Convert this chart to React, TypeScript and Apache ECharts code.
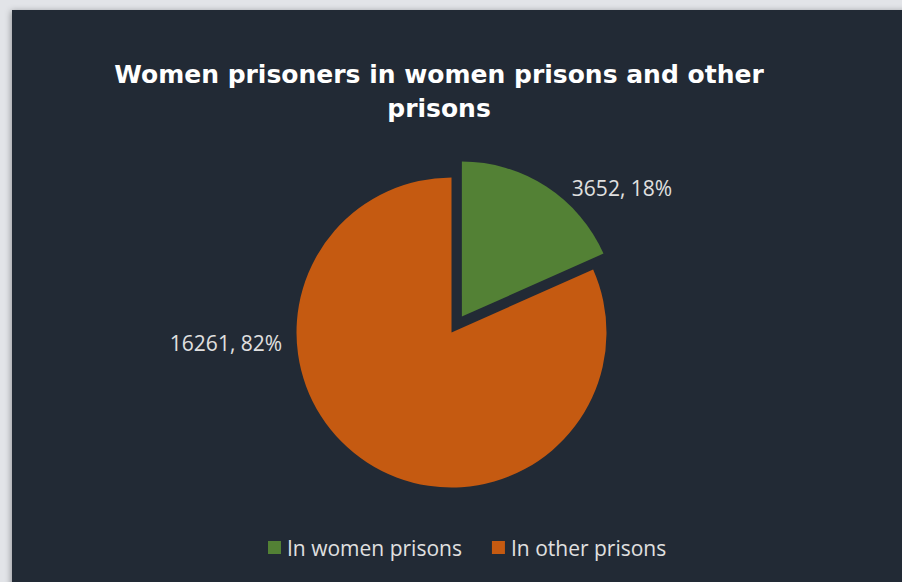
import React, { useEffect, useRef } from "react";
import * as echarts from "echarts";

const categories = ["In women prisons", "In other prisons"];
const values = [3652, 16261];
const percents = ["18%", "82%"];
const colors = ["#538135", "#C55A11"];
const titleText = "Women prisoners in women prisons and other\nprisons";

export default function App() {
  const ref = useRef<HTMLDivElement>(null);
  useEffect(() => {
    if (!ref.current) return;
    const chart = echarts.init(ref.current, undefined, { renderer: "svg" });
    const cx = 451.5;
    const cy = 332.5;
    const r = 155;
    const explode = 19;
    const total = values[0] + values[1];
    const mid = (values[0] / total) * Math.PI; // half of green slice angle from top
    const gx = cx + explode * Math.sin(mid);
    const gy = cy - explode * Math.cos(mid);
    const labelPos = [
      { x: 622, y: 188 },
      { x: 226, y: 343 },
    ];
    const labelCommon = {
      show: true,
      position: "outside",
      color: "#e0e0e0",
      fontFamily: "Open Sans",
      fontSize: 21,
      formatter: (p: any) => {
        const i = categories.indexOf(p.name);
        return `${values[i]}, ${percents[i]}`;
      },
    };
    const layout = (p: any) => {
      const i = p.dataIndex;
      const w = p.labelRect.width;
      const pos = labelPos[i];
      return { x: pos.x - w / 2, y: pos.y, align: "left", verticalAlign: "middle" };
    };
    chart.setOption({
      animation: false,
      backgroundColor: "#e2e4e8",
      graphic: [
        {
          type: "rect",
          shape: { x: 12, y: 10, width: 900, height: 600 },
          style: {
            fill: "#232a35",
            shadowColor: "rgba(0,0,0,0.35)",
            shadowBlur: 6,
            shadowOffsetX: -1,
            shadowOffsetY: 1,
          },
          z: -10,
        },
      ],
      title: {
        text: titleText,
        left: 434,
        textAlign: "center",
        top: 52,
        textStyle: {
          color: "#ffffff",
          fontFamily: "DejaVu Sans",
          fontWeight: "bold",
          fontSize: 25,
          lineHeight: 34,
        },
      },
      legend: {
        data: categories,
        left: 263,
        top: 532,
        icon: "rect",
        itemWidth: 13,
        itemHeight: 13,
        itemGap: 30,
        selectedMode: false,
        textStyle: {
          color: "#e0e0e0",
          fontFamily: "Open Sans",
          fontSize: 21,
          padding: [0, 0, 0, 1],
        },
      },
      series: [
        {
          type: "pie",
          center: [gx, gy],
          radius: [0, r],
          startAngle: 90,
          clockwise: true,
          silent: true,
          emphasis: { disabled: true },
          data: [
            { name: categories[0], value: values[0], itemStyle: { color: colors[0] } },
            {
              name: "rest-a",
              value: values[1],
              itemStyle: { color: "rgba(0,0,0,0)" },
              label: { show: false },
            },
          ],
          label: labelCommon,
          labelLine: { show: false },
          labelLayout: layout,
        },
        {
          type: "pie",
          center: [cx, cy],
          radius: [0, r],
          startAngle: 90,
          clockwise: true,
          silent: true,
          emphasis: { disabled: true },
          data: [
            {
              name: "rest-b",
              value: values[0],
              itemStyle: { color: "rgba(0,0,0,0)" },
              label: { show: false },
            },
            { name: categories[1], value: values[1], itemStyle: { color: colors[1] } },
          ],
          label: labelCommon,
          labelLine: { show: false },
          labelLayout: layout,
        },
      ],
    });
    return () => chart.dispose();
  }, []);
  return (
    <div
      ref={ref}
      style={{ position: "fixed", left: 0, top: 0, width: 902, height: 582 }}
    />
  );
}
